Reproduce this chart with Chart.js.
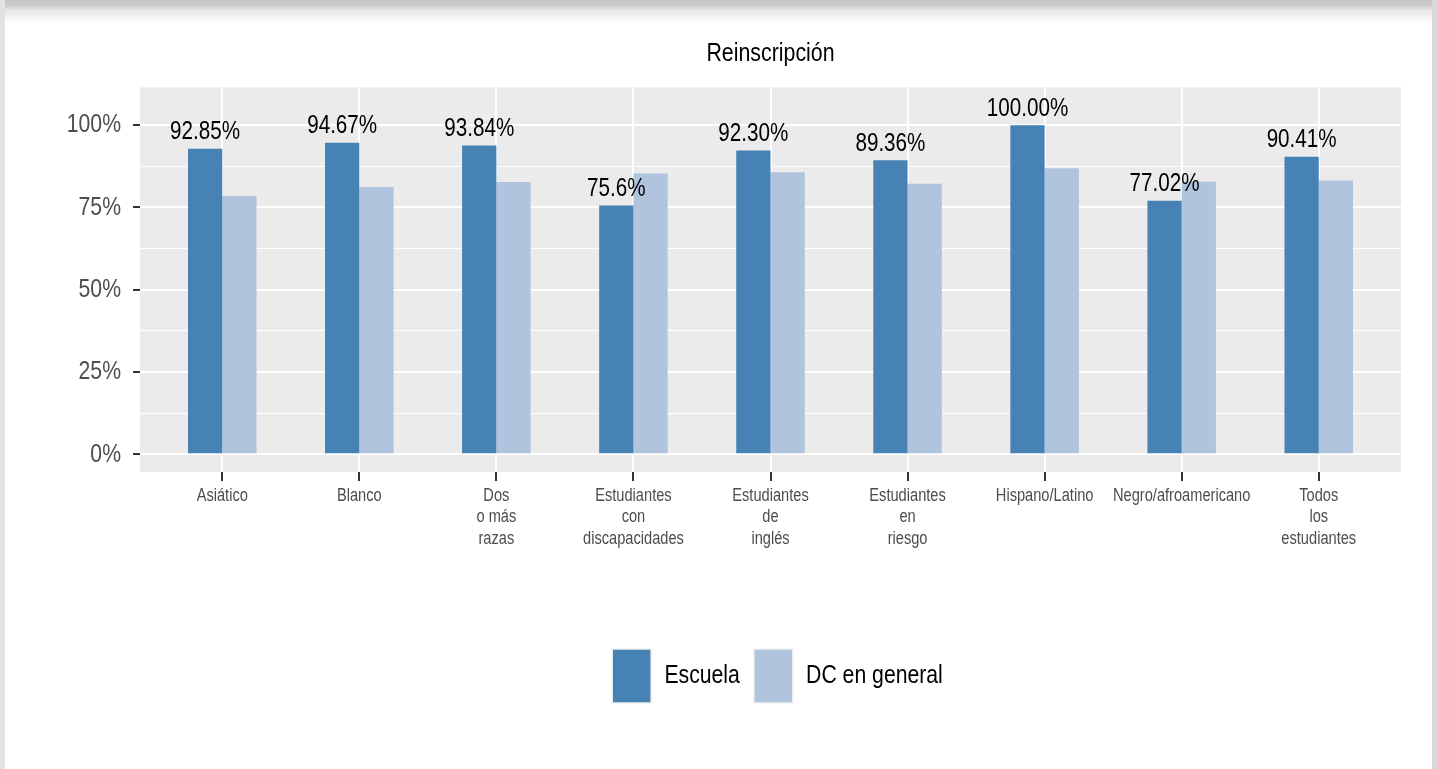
<!DOCTYPE html>
<html>
<head>
<meta charset="utf-8">
<script src="https://cdn.jsdelivr.net/npm/chart.js@4.4.1/dist/chart.umd.min.js"></script>
<style>
  html, body { margin: 0; padding: 0; background: #ffffff; overflow: hidden; }
  #wrap { position: relative; width: 1437px; height: 769px; }
  canvas { position: absolute; left: 0; top: 0; }
  .topband { position: absolute; left: 0; top: 0; width: 1437px; height: 24px;
    background: linear-gradient(to bottom, #c4c4c4 0px, #cccccc 6px, #e6e6e6 10px, #f6f6f6 18px, #ffffff 24px); z-index: 2; }
  .lborder { position: absolute; left: 0; top: 0; width: 5px; height: 769px; background: #e2e2e2; z-index: 2; }
  .rborder { position: absolute; right: 0; top: 0; width: 5px; height: 769px; background: #d9d9d9; z-index: 2; }
</style>
</head>
<body>
<div id="wrap">
  <canvas id="c" width="1437" height="769"></canvas>
  <div class="topband"></div>
  <div class="lborder"></div>
  <div class="rborder"></div>
</div>
<script>
// ---- data ----
const categories = [
  "Asiático",
  "Blanco",
  "Dos\no más\nrazas",
  "Estudiantes\ncon\ndiscapacidades",
  "Estudiantes\nde\ninglés",
  "Estudiantes\nen\nriesgo",
  "Hispano/Latino",
  "Negro/afroamericano",
  "Todos\nlos\nestudiantes"
];
const seriesNames = ["Escuela", "DC en general"];
const escuela = [92.85, 94.67, 93.84, 75.6, 92.30, 89.36, 100.00, 77.02, 90.41];
const dcGeneral = [78.5, 81.2, 82.7, 85.3, 85.7, 82.2, 86.9, 82.8, 83.2];
const escuelaLabels = ["92.85%", "94.67%", "93.84%", "75.6%", "92.30%", "89.36%", "100.00%", "77.02%", "90.41%"];
const yTickValues = [0, 12.5, 25, 37.5, 50, 62.5, 75, 87.5, 100];
const yMajorTicks = [0, 25, 50, 75, 100];

const FONT = "'Liberation Sans', Arial, sans-serif";

// Condensed text rendering (the reference uses a narrow Helvetica-like face)
const SX = 0.8;
(function () {
  const P = CanvasRenderingContext2D.prototype;
  const origFill = P.fillText;
  const origMeasure = P.measureText;
  P.fillText = function (t, x, y, maxW) {
    this.save();
    this.translate(x, y);
    this.scale(SX, 1);
    if (maxW === undefined || maxW === null) origFill.call(this, t, 0, 0);
    else origFill.call(this, t, 0, 0, maxW / SX);
    this.restore();
  };
  P.measureText = function (t) {
    const m = origMeasure.call(this, t);
    return {
      width: m.width * SX,
      actualBoundingBoxLeft: m.actualBoundingBoxLeft * SX,
      actualBoundingBoxRight: m.actualBoundingBoxRight * SX,
      actualBoundingBoxAscent: m.actualBoundingBoxAscent,
      actualBoundingBoxDescent: m.actualBoundingBoxDescent,
      fontBoundingBoxAscent: m.fontBoundingBoxAscent,
      fontBoundingBoxDescent: m.fontBoundingBoxDescent
    };
  };
})();

const panelBg = {
  id: 'panelBg',
  beforeDraw(chart) {
    const a = chart.chartArea, ctx = chart.ctx;
    ctx.save();
    ctx.fillStyle = '#EBEBEB';
    ctx.fillRect(a.left, a.top, a.right - a.left, a.bottom - a.top);
    ctx.restore();
  },
  afterLayout(chart) {
    const a = chart.chartArea;
    if (chart.titleBlock) { chart.titleBlock.left = a.left; chart.titleBlock.right = a.right; }
    if (chart.legend) { chart.legend.left = a.left; chart.legend.right = a.right + 14; }
  }
};

const barLabels = {
  id: 'barLabels',
  afterDatasetsDraw(chart) {
    const ctx = chart.ctx;
    const meta = chart.getDatasetMeta(0);
    ctx.save();
    ctx.font = "25.8px " + FONT;
    ctx.fillStyle = '#000000';
    ctx.textAlign = 'center';
    ctx.textBaseline = 'alphabetic';
    meta.data.forEach((bar, i) => {
      ctx.fillText(escuelaLabels[i], bar.x, bar.y - 9.3);
    });
    ctx.restore();
  }
};

new Chart(document.getElementById('c'), {
  type: 'bar',
  data: {
    datasets: [
      { label: seriesNames[0], data: escuela.map((v, i) => ({ x: i, y: v })), backgroundColor: '#4682B4', borderWidth: 0 },
      { label: seriesNames[1], data: dcGeneral.map((v, i) => ({ x: i, y: v })), backgroundColor: '#B0C4DE', borderWidth: 0 }
    ]
  },
  options: {
    responsive: false,
    animation: false,
    devicePixelRatio: 1,
    layout: { padding: { left: 0, right: 36, top: 0, bottom: 56 } },
    datasets: { bar: { categoryPercentage: 0.5, barPercentage: 1.0 } },
    scales: {
      x: {
        type: 'linear',
        min: -0.6,
        max: 8.6,
        offset: false,
        afterBuildTicks(scale) { scale.ticks = categories.map((c, i) => ({ value: i })); },
        afterFit(scale) { scale.height = 163; },
        grid: {
          offset: false,
          color: '#FFFFFF',
          lineWidth: 2,
          drawTicks: true,
          tickLength: 9,
          tickColor: '#333333',
          tickWidth: 2
        },
        border: { display: false },
        ticks: {
          autoSkip: false,
          maxRotation: 0,
          minRotation: 0,
          padding: 4,
          color: '#4d4d4d',
          font: { family: FONT, size: 18.3, lineHeight: 1.18 },
          callback(value) {
            const c = categories[Math.round(value)];
            return c ? c.split('\n') : '';
          }
        }
      },
      y: {
        type: 'linear',
        min: -5.4,
        max: 111.5,
        afterBuildTicks(scale) { scale.ticks = yTickValues.map(v => ({ value: v })); },
        afterFit(scale) { scale.width = 140; },
        grid: {
          color: '#FFFFFF',
          lineWidth: ctx => yMajorTicks.includes(ctx.tick.value) ? 2 : 1,
          drawTicks: true,
          tickLength: 7,
          tickColor: ctx => yMajorTicks.includes(ctx.tick.value) ? '#333333' : 'rgba(0,0,0,0)',
          tickWidth: 2
        },
        border: { display: false },
        ticks: {
          autoSkip: false,
          padding: 12,
          color: '#4d4d4d',
          font: { family: FONT, size: 26.5 },
          callback(value) { return yMajorTicks.includes(value) ? value + '%' : ''; }
        }
      }
    },
    plugins: {
      title: {
        display: true,
        text: 'Reinscripción',
        color: '#000000',
        font: { family: FONT, size: 26.7, weight: 'normal', lineHeight: 1.2 },
        padding: { top: 38, bottom: 17.3 }
      },
      legend: {
        display: true,
        position: 'bottom',
        labels: {
          color: '#000000',
          font: { family: FONT, size: 26.5 },
          boxWidth: 39,
          boxHeight: 54,
          padding: 14,
          generateLabels(chart) {
            const items = Chart.defaults.plugins.legend.labels.generateLabels(chart);
            items.forEach(it => { it.strokeStyle = '#F2F2F2'; it.lineWidth = 1.5; });
            return items;
          }
        }
      },
      tooltip: { enabled: false }
    }
  },
  plugins: [panelBg, barLabels]
});
</script>
</body>
</html>
